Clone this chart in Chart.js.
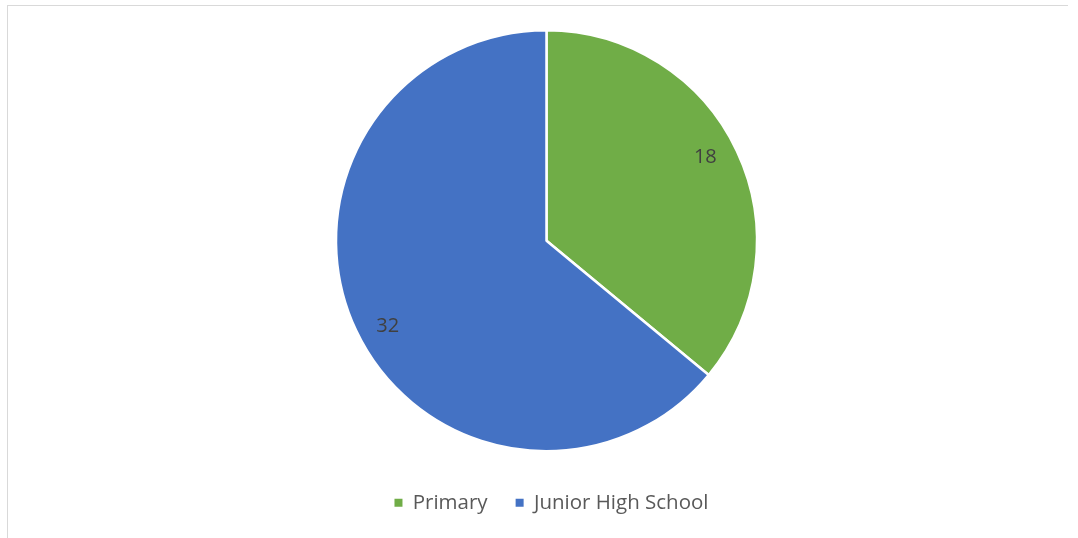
<!DOCTYPE html>
<html>
<head>
<meta charset="utf-8">
<script src="https://cdn.jsdelivr.net/npm/chart.js@4"></script>
<style>
    html, body { margin: 0; padding: 0; background: #fff; }
    #wrap { position: relative; width: 1078px; height: 538px; overflow: hidden; }
    #frame {
        position: absolute; left: 7px; top: 5px; width: 1061px; height: 600px;
        border-top: 1px solid #d9d9d9; border-left: 1px solid #d9d9d9;
        box-sizing: border-box;
    }
    #chart { position: absolute; left: 0; top: 0; }
</style>
</head>
<body>
<div id="wrap">
    <div id="frame"></div>
    <canvas id="chart" width="1078" height="538"></canvas>
</div>
<script>
    const categories = ['Primary', 'Junior High School'];
    const counts = [18, 32];
    const sliceColors = ['#70ad47', '#4472c4'];

    const FONT = '"Open Sans", "Noto Sans", sans-serif';

    // value labels inside each slice, near the rim, turned slightly back from the bisector
    const sliceLabels = {
        id: 'sliceLabels',
        afterDatasetsDraw: function (chart) {
            var ctx = chart.ctx;
            var meta = chart.getDatasetMeta(0);
            ctx.save();
            ctx.font = '20px ' + FONT;
            ctx.fillStyle = '#404040';
            ctx.textAlign = 'center';
            ctx.textBaseline = 'middle';
            meta.data.forEach(function (arc, i) {
                var p = arc.getProps(['x', 'y', 'startAngle', 'endAngle', 'outerRadius'], true);
                var mid = (p.startAngle + p.endAngle) / 2 - 0.05;
                var r = p.outerRadius * 0.855;
                ctx.fillText(String(counts[i]), p.x + Math.cos(mid) * r, p.y + Math.sin(mid) * r + 1);
            });
            ctx.restore();
        },
    };

    // move the legend row a little right of the pie's centre line and lower
    const legendShift = {
        id: 'legendShift',
        afterLayout: function (chart) {
            var lg = chart.legend;
            if (!lg) return;
            lg.left += 5;
            lg.right += 5;
            lg.top += 12;
            lg.bottom += 12;
        },
    };

    new Chart(document.getElementById('chart'), {
        type: 'pie',
        data: {
            labels: categories,
            datasets: [{
                data: counts,
                backgroundColor: sliceColors,
                borderColor: '#ffffff',
                borderWidth: 2.5,
            }],
        },
        options: {
            responsive: false,
            animation: false,
            events: [],
            layout: {
                padding: { left: 15, right: 0, top: 29, bottom: 27 },
            },
            plugins: {
                tooltip: { enabled: false },
                legend: {
                    position: 'bottom',
                    labels: {
                        boxWidth: 8,
                        boxHeight: 8,
                        padding: 28,
                        color: '#595959',
                        font: { family: FONT, size: 20.5 },
                        generateLabels: function (chart) {
                            var items = Chart.overrides.pie.plugins.legend.labels.generateLabels(chart);
                            items.forEach(function (it) {
                                it.lineWidth = 0;
                                it.strokeStyle = it.fillStyle;
                            });
                            return items;
                        },
                    },
                },
            },
        },
        plugins: [sliceLabels, legendShift],
    });
</script>
</body>
</html>
